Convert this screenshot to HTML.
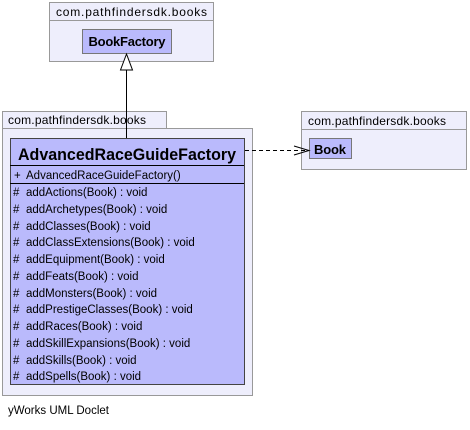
<!DOCTYPE html>
<html><head><style>body{margin:0;background:#fff}svg{display:block}</style></head><body>
<svg width="470" height="430" xmlns="http://www.w3.org/2000/svg" font-family="Liberation Sans, sans-serif">
<rect x="49.5" y="2.5" width="164" height="18" fill="#eeeefc" stroke="#999"/>
<rect x="49.5" y="20.5" width="164" height="41" fill="#eeeefc" stroke="#999"/>
<text x="56" y="16" font-size="12" textLength="151" fill="#000">com.pathfindersdk.books</text>
<rect x="82.5" y="29.5" width="89" height="24" fill="#babafc" stroke="#777"/>
<text x="127" y="46" font-size="13" font-weight="bold" text-anchor="middle" textLength="77">BookFactory</text>
<rect x="2.5" y="111.5" width="164" height="17" fill="#eeeefc" stroke="#999"/>
<rect x="2.5" y="128.5" width="250" height="267" fill="#eeeefc" stroke="#999"/>
<text x="8" y="124" font-size="12" textLength="138">com.pathfindersdk.books</text>
<rect x="301.5" y="111.5" width="165" height="18" fill="#eeeefc" stroke="#999"/>
<rect x="301.5" y="129.5" width="165" height="40" fill="#eeeefc" stroke="#999"/>
<text x="308" y="125" font-size="12" textLength="138">com.pathfindersdk.books</text>
<rect x="309.5" y="138.5" width="42" height="20" fill="#babafc" stroke="#777"/>
<text x="330" y="154" font-size="13" font-weight="bold" text-anchor="middle" textLength="32">Book</text>
<rect x="10.5" y="138.5" width="234" height="246" fill="#babafc" stroke="#444"/>
<line x1="10" y1="165.5" x2="244" y2="165.5" stroke="#000"/>
<line x1="10" y1="183.5" x2="244" y2="183.5" stroke="#000"/>
<text x="18" y="160" font-size="17" font-weight="bold" textLength="218" lengthAdjust="spacingAndGlyphs">AdvancedRaceGuideFactory</text>
<text font-size="11.5">
<tspan x="14" y="179">+</tspan><tspan x="26" y="179">AdvancedRaceGuideFactory()</tspan>
</text>
<g font-size="11.5">
<text x="13" y="196">#</text><text x="26" y="196">addActions(Book) : void</text>
<text x="13" y="213">#</text><text x="26" y="213">addArchetypes(Book) : void</text>
<text x="13" y="230">#</text><text x="26" y="230">addClasses(Book) : void</text>
<text x="13" y="246">#</text><text x="26" y="246">addClassExtensions(Book) : void</text>
<text x="13" y="263">#</text><text x="26" y="263">addEquipment(Book) : void</text>
<text x="13" y="280">#</text><text x="26" y="280">addFeats(Book) : void</text>
<text x="13" y="297">#</text><text x="26" y="297">addMonsters(Book) : void</text>
<text x="13" y="313">#</text><text x="26" y="313">addPrestigeClasses(Book) : void</text>
<text x="13" y="330">#</text><text x="26" y="330">addRaces(Book) : void</text>
<text x="13" y="347">#</text><text x="26" y="347">addSkillExpansions(Book) : void</text>
<text x="13" y="364">#</text><text x="26" y="364">addSkills(Book) : void</text>
<text x="13" y="380">#</text><text x="26" y="380">addSpells(Book) : void</text>
</g>
<line x1="126.5" y1="70" x2="126.5" y2="138" stroke="#000"/>
<polygon points="126.5,54 120.5,70 132.5,70" fill="#fff" stroke="#000"/>
<line x1="245" y1="150.5" x2="308" y2="150.5" stroke="#000" stroke-dasharray="4,3"/>
<polyline points="294,146 309,150.5 294,155" fill="none" stroke="#000"/>
<text x="8" y="414" font-size="11.5">yWorks UML Doclet</text>
</svg>
</body></html>
